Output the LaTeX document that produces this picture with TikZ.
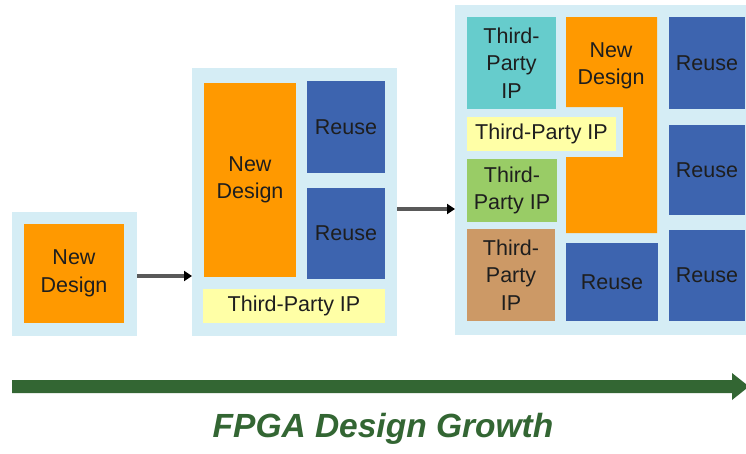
\documentclass[tikz,border=0pt]{standalone}
\usepackage{fontspec}
\setmainfont{Liberation Sans}
\usetikzlibrary{arrows.meta}
\definecolor{lblue}{HTML}{D5EDF5}
\definecolor{orng}{HTML}{FF9900}
\definecolor{reuse}{HTML}{3D64AF}
\definecolor{ylw}{HTML}{FFFFA6}
\definecolor{cyn}{HTML}{66CCCC}
\definecolor{grn}{HTML}{99CC66}
\definecolor{brwn}{HTML}{CC9966}
\definecolor{dkgreen}{HTML}{336633}
\definecolor{txt}{HTML}{1E1E1E}
\tikzset{
  blk/.style={rectangle, inner sep=0pt, outer sep=0pt, anchor=north west, align=center,
     text=txt, font=\fontsize{21.5}{27.5}\selectfont},
  sz/.style 2 args={minimum width=#1pt, minimum height=#2pt},
  outerbox/.style={blk, fill=lblue},
  newbox/.style={blk, fill=orng},
  reusebox/.style={blk, fill=reuse},
  ipbox/.style={blk, fill=ylw},
  arr/.style={draw=black!65, line width=3.2pt, -{Triangle[length=8pt,width=10pt,color=black]}},
}
\begin{document}
\begin{tikzpicture}[x=1pt,y=-1pt]
\useasboundingbox[fill=white] (0,0) rectangle (746,453);
% stage 1
\node[outerbox, sz={125}{124}] (o1) at (12,212) {};
\node[newbox, sz={100}{99}] (n1) at (24,224) {New\\Design};
% stage 2
\node[outerbox, sz={205}{268}] (o2) at (192,68) {};
\node[newbox, sz={92}{194}] (n2) at (204,83) {New\\Design};
\node[reusebox, sz={78}{92}] (r21) at (307,81) {Reuse};
\node[reusebox, sz={78}{91}] (r22) at (307,188) {Reuse};
\node[ipbox, sz={182}{34}] (y2) at (203,289) {Third-Party IP};
% stage 3
\node[outerbox, sz={305}{330}] (o3) at (455,5) {};
\fill[orng] (566,17) -- (657,17) -- (657,233) -- (566,233) -- (566,157) -- (623,157) -- (623,107) -- (566,107) -- cycle;
\node[blk, anchor=center] (n3) at (611,66) {New\\Design};
\node[blk, fill=cyn, sz={89}{92}] (c3) at (467,17) {Third-\\Party\\IP};
\node[ipbox, sz={149}{34}] (y3) at (467,117) {Third-Party IP};
\node[blk, fill=grn, sz={90}{63}] (g3) at (467,159) {Third-\\Party IP};
\node[blk, fill=brwn, sz={88}{92}] (b3) at (467,229) {Third-\\Party\\IP};
\node[reusebox, sz={92}{78}] (r31) at (566,243) {Reuse};
\node[reusebox, sz={76}{92}] (r32) at (669,17) {Reuse};
\node[reusebox, sz={76}{90}] (r33) at (669,125) {Reuse};
\node[reusebox, sz={76}{91}] (r34) at (669,230) {Reuse};
% connectors
\draw[arr] ([yshift=-2pt]o1.east) -- ([yshift=-2pt]o1.east -| o2.west);
\draw[arr] ([yshift=-7pt]o2.east) -- ([yshift=-7pt]o2.east -| o3.west);
% growth arrow
\fill[dkgreen] (12,380) -- (732,380) -- (732,373) -- (749,386.5) -- (732,400) -- (732,393) -- (12,393) -- cycle;
\node[text=dkgreen, font=\fontsize{33.5}{40}\selectfont\bfseries\itshape, inner sep=0pt, anchor=base] (title) at (383,437) {FPGA Design Growth};
\end{tikzpicture}
\end{document}
